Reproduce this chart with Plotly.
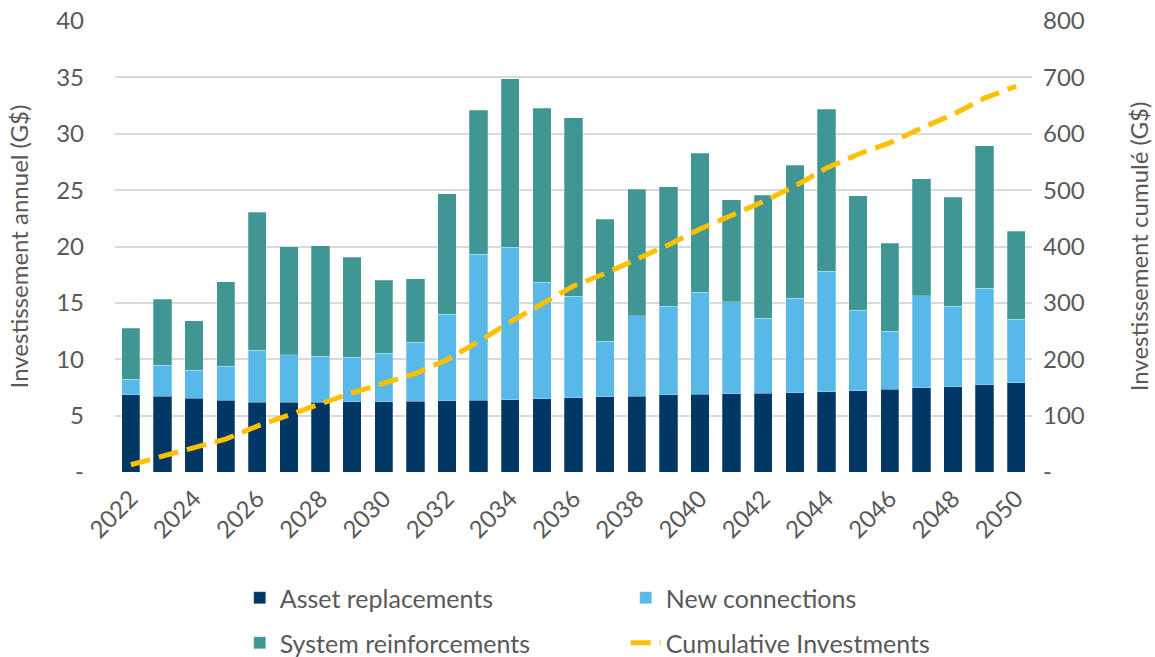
import plotly.graph_objects as go

years = list(range(2022, 2051))

asset_replacements = [6.83, 6.74, 6.56, 6.36, 6.18, 6.20, 6.20, 6.23, 6.23, 6.29,
                      6.32, 6.36, 6.41, 6.50, 6.59, 6.68, 6.74, 6.86, 6.91, 6.94,
                      6.97, 7.03, 7.12, 7.21, 7.33, 7.48, 7.57, 7.74, 7.92]
new_connections = [1.41, 2.75, 2.48, 3.01, 4.64, 4.20, 4.08, 3.97, 4.32, 5.23,
                   7.68, 12.94, 13.54, 10.34, 9.01, 4.93, 7.12, 7.86, 9.02, 8.16,
                   6.68, 8.37, 10.70, 7.12, 5.17, 8.15, 7.15, 8.57, 5.62]
system_reinforcements = [4.53, 5.85, 4.36, 7.50, 12.20, 9.57, 9.78, 8.83, 6.44, 5.62,
                         10.67, 12.79, 14.92, 15.43, 15.84, 10.79, 11.23, 10.58, 12.35, 9.04,
                         10.91, 11.82, 14.36, 10.17, 7.77, 10.40, 9.66, 12.62, 7.83]
cumulative_investments = [12.8, 28.1, 41.5, 58.4, 81.4, 101.4, 121.4, 140.5, 157.5, 174.6,
                          199.3, 231.4, 266.2, 298.5, 329.9, 352.3, 377.4, 402.7, 431.0, 455.1,
                          479.7, 506.9, 539.1, 563.6, 583.9, 609.9, 634.3, 663.2, 684.6]

left_ticks = [0, 5, 10, 15, 20, 25, 30, 35, 40]
left_labels = ['-', '5', '10', '15', '20', '25', '30', '35', '40']
right_ticks = [0, 100, 200, 300, 400, 500, 600, 700, 800]
right_labels = ['-', '100', '200', '300', '400', '500', '600', '700', '800']

grey = '#595959'
bar_line = dict(color='rgba(255,255,255,0.5)', width=0.5)

fig = go.Figure()
fig.add_trace(go.Bar(x=years, y=asset_replacements, name='Asset replacements', legend='legend',
                     marker=dict(color='#003764', line=bar_line)))
fig.add_trace(go.Bar(x=years, y=new_connections, name='New connections', legend='legend',
                     marker=dict(color='#58B8E8', line=bar_line)))
fig.add_trace(go.Bar(x=years, y=system_reinforcements, name='System reinforcements', legend='legend2',
                     marker=dict(color='#3F9692', line=bar_line)))
fig.add_trace(go.Scatter(x=years, y=cumulative_investments, name='Cumulative Investments',
                         yaxis='y2', mode='lines', legend='legend2',
                         line=dict(color='#FFC000', width=5, dash='20px,9px')))

# two one-row legends so the row spacing can be set like the original
legend_style = dict(orientation='h', xanchor='left', x=0.136, yref='container', yanchor='middle',
                    entrywidth=341, entrywidthmode='pixels', traceorder='normal',
                    font=dict(size=25, color=grey))

fig.update_layout(
    barmode='stack',
    bargap=0.42,
    width=1155, height=657,
    margin=dict(l=115, r=123, t=21, b=185),
    plot_bgcolor='white', paper_bgcolor='white',
    font=dict(family='Lato', size=24, color=grey),
    xaxis=dict(range=[2021.5, 2050.5], tickmode='array', tickvals=list(range(2022, 2051, 2)),
               tickangle=-45, showgrid=False, ticks='', automargin=False,
               ticklabelstandoff=7, tickfont=dict(size=24, color=grey)),
    yaxis=dict(range=[0, 40], tickvals=left_ticks, ticktext=left_labels,
               gridcolor='#D9D9D9', gridwidth=1.5, zeroline=False, automargin=False,
               ticklabelstandoff=30,
               title=dict(text='Investissement annuel (G$)', font=dict(size=24, color=grey), standoff=20),
               tickfont=dict(size=24, color=grey)),
    yaxis2=dict(range=[0, 800], tickvals=right_ticks, ticktext=right_labels,
                overlaying='y', side='right', showgrid=False, zeroline=False, automargin=False,
                ticklabelstandoff=10,
                title=dict(text='Investissement cumulé (G$)', font=dict(size=24, color=grey), standoff=47),
                tickfont=dict(size=24, color=grey)),
    legend=dict(legend_style, y=0.0898),
    legend2=dict(legend_style, y=0.0213),
)

fig.write_html("out.html", config={'displayModeBar': False},
               post_script="document.body.style.margin='0';")
